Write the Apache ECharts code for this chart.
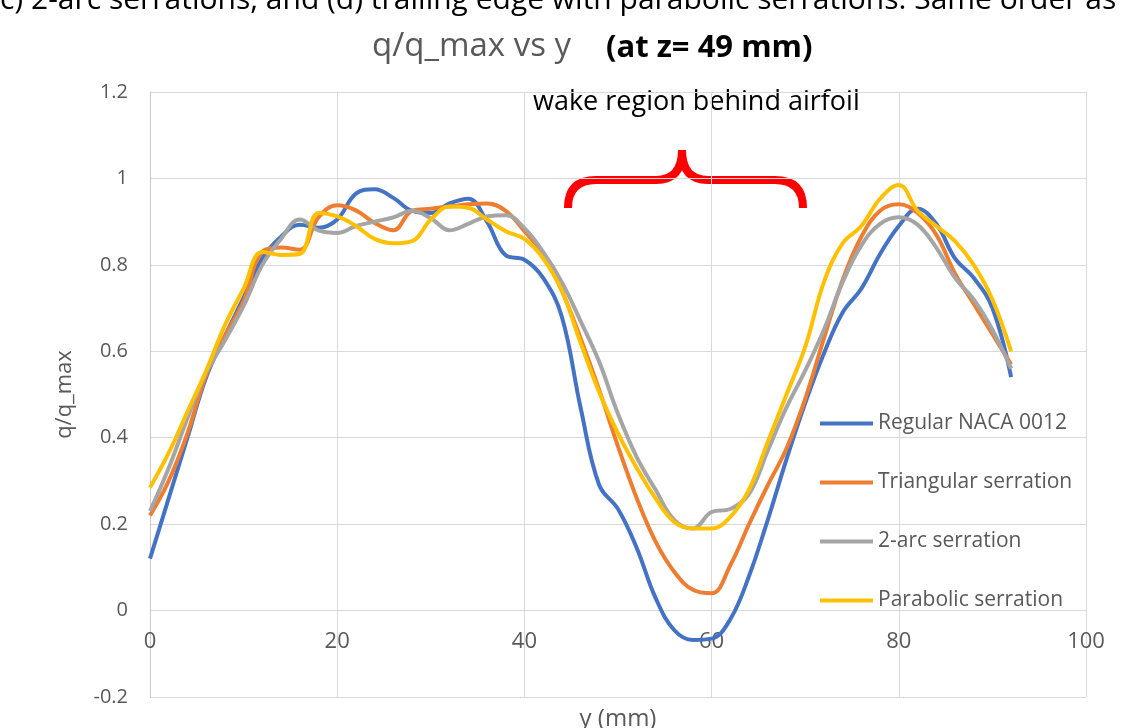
<!DOCTYPE html>
<html>
<head>
<meta charset="utf-8">
<script src="https://cdn.jsdelivr.net/npm/echarts@6/dist/echarts.min.js"></script>
<style>
  html, body { margin: 0; padding: 0; background: #ffffff; }
  #chart { width: 1135px; height: 728px; }
</style>
</head>
<body>
<div id="chart"></div>
<script>
// y position (mm) of each sample
var yPos = [0, 2, 4, 6, 8, 10, 12, 14, 16, 18, 20, 22, 24, 26, 28, 30, 32, 34, 36, 38, 40, 42, 44, 46,
  48, 50, 52, 54, 56, 58, 60, 62, 64, 66, 68, 70, 72, 74, 76, 78, 80, 82, 84, 86, 88, 90, 92];

var regular = [0.12, 0.26, 0.40, 0.54, 0.635, 0.724, 0.815, 0.865, 0.893, 0.886, 0.905, 0.965, 0.975, 0.955,
  0.925, 0.92, 0.942, 0.953, 0.90, 0.822, 0.812, 0.77, 0.68, 0.47, 0.29, 0.235, 0.145, 0.03, -0.045, -0.068,
  -0.065, -0.02, 0.08, 0.21, 0.35, 0.48, 0.595, 0.69, 0.745, 0.825, 0.89, 0.93, 0.895, 0.815, 0.77, 0.70, 0.54];

var triangular = [0.22, 0.30, 0.41, 0.545, 0.635, 0.716, 0.83, 0.84, 0.835, 0.91, 0.938, 0.926, 0.897, 0.88,
  0.925, 0.93, 0.935, 0.94, 0.942, 0.925, 0.878, 0.825, 0.74, 0.63, 0.51, 0.38, 0.26, 0.16, 0.09, 0.048,
  0.04, 0.105, 0.20, 0.29, 0.375, 0.49, 0.63, 0.765, 0.865, 0.925, 0.94, 0.92, 0.87, 0.78, 0.71, 0.64, 0.57];

var twoArc = [0.23, 0.33, 0.445, 0.55, 0.625, 0.705, 0.80, 0.86, 0.905, 0.88, 0.874, 0.89, 0.90, 0.91,
  0.925, 0.908, 0.88, 0.895, 0.912, 0.915, 0.885, 0.83, 0.76, 0.67, 0.575, 0.455, 0.355, 0.28, 0.21, 0.19,
  0.228, 0.235, 0.27, 0.37, 0.47, 0.555, 0.65, 0.76, 0.845, 0.895, 0.91, 0.893, 0.84, 0.77, 0.72, 0.65, 0.56];

var parabolic = [0.285, 0.365, 0.46, 0.555, 0.66, 0.745, 0.83, 0.823, 0.825, 0.92, 0.912, 0.89, 0.86, 0.85,
  0.855, 0.905, 0.935, 0.932, 0.905, 0.878, 0.86, 0.815, 0.74, 0.62, 0.505, 0.41, 0.33, 0.26, 0.205, 0.19,
  0.19, 0.217, 0.28, 0.39, 0.50, 0.61, 0.76, 0.85, 0.89, 0.953, 0.985, 0.925, 0.89, 0.855, 0.80, 0.72, 0.60];

var seriesNames = ["Regular NACA 0012", "Triangular serration", "2-arc serration", "Parabolic serration"];
var seriesColors = ["#4472C4", "#ED7D31", "#A5A5A5", "#FFC000"];
var seriesData = [regular, triangular, twoArc, parabolic];

var chart = echarts.init(document.getElementById("chart"));

function makeSeries(i) {
  return {
    name: seriesNames[i],
    type: "line",
    smooth: 0.4,
    showSymbol: false,
    color: seriesColors[i],
    lineStyle: { width: 4, color: seriesColors[i] },
    data: yPos.map(function (x, k) { return [x, seriesData[i][k]]; })
  };
}

// red curly brace over the wake region, drawn piece by piece
var braceStyle = { fill: null, stroke: "#FF0000", lineWidth: 8 };
function curve(x1, y1, cx, cy, x2, y2) {
  return { type: "bezierCurve", shape: { x1: x1, y1: y1, cpx1: cx, cpy1: cy, x2: x2, y2: y2 }, style: braceStyle };
}
function straight(x1, y1, x2, y2) {
  return { type: "line", shape: { x1: x1, y1: y1, x2: x2, y2: y2 }, style: braceStyle };
}

// plot area, so the x axis can sit on the y = 0 line like the Excel original
var plotTop = 92, plotBottom = 697, yMin = -0.2, yMax = 1.2;
var zeroOffset = -(plotBottom - plotTop) * (0 - yMin) / (yMax - yMin);

var option = {
  backgroundColor: "#ffffff",
  animation: false,
  textStyle: { fontFamily: "Open Sans" },
  grid: { left: 150, right: 49, top: plotTop, bottom: 728 - plotBottom, outerBoundsMode: "none" },
  legend: {
    orient: "vertical",
    left: 815,
    top: 408,
    icon: "rect",
    itemWidth: 53,
    itemHeight: 4,
    itemGap: 38,
    textStyle: { fontSize: 21, color: "#595959", lineHeight: 21 },
    data: seriesNames
  },
  xAxis: {
    type: "value",
    min: 0,
    max: 100,
    interval: 20,
    offset: zeroOffset,
    name: "y (mm)",
    nameLocation: "middle",
    nameGap: 97,
    nameTextStyle: { fontSize: 24, color: "#595959" },
    axisLine: { onZero: false, lineStyle: { color: "#d9d9d9", width: 1 } },
    axisTick: { show: false },
    axisLabel: { fontSize: 22, color: "#595959", margin: 20 },
    splitLine: { show: true, lineStyle: { color: "#d9d9d9", width: 1 } }
  },
  yAxis: {
    type: "value",
    min: yMin,
    max: yMax,
    interval: 0.2,
    name: "q/q_max",
    nameLocation: "middle",
    nameGap: 74,
    nameTextStyle: { fontSize: 22, color: "#595959" },
    axisLine: { show: true, onZero: false, lineStyle: { color: "#c8c8c8", width: 1 } },
    axisTick: { show: false },
    axisLabel: { fontSize: 20, color: "#595959", margin: 22 },
    splitLine: { show: true, lineStyle: { color: "#d9d9d9", width: 1 } }
  },
  graphic: [
    {
      type: "text",
      left: 0,
      top: -15,
      style: {
        text: "c) 2-arc serrations, and (d) trailing edge with parabolic serrations. Same order as",
        fontSize: 30,
        fontFamily: "Open Sans",
        fill: "#000000"
      }
    },
    {
      type: "text",
      left: 372,
      top: 30,
      style: { text: "q/q_max vs y", fontSize: 33, fontFamily: "Open Sans", fill: "#595959" }
    },
    {
      type: "text",
      left: 606,
      top: 33,
      style: { text: "(at z= 49 mm)", fontSize: 31, fontWeight: "bold", fontFamily: "Open Sans", fill: "#000000" }
    },
    {
      type: "text",
      left: 533,
      top: 89,
      style: { text: "wake region behind airfoil", fontSize: 27, fontFamily: "Open Sans", fill: "#000000" }
    },
    curve(568, 208, 568, 180, 596, 180),
    straight(596, 180, 656, 180),
    curve(656, 180, 682, 180, 682, 150),
    curve(682, 150, 682, 180, 708, 180),
    straight(708, 180, 775, 180),
    curve(775, 180, 803, 180, 803, 208)
  ],
  series: [makeSeries(0), makeSeries(1), makeSeries(2), makeSeries(3)]
};

chart.setOption(option);
</script>
</body>
</html>
